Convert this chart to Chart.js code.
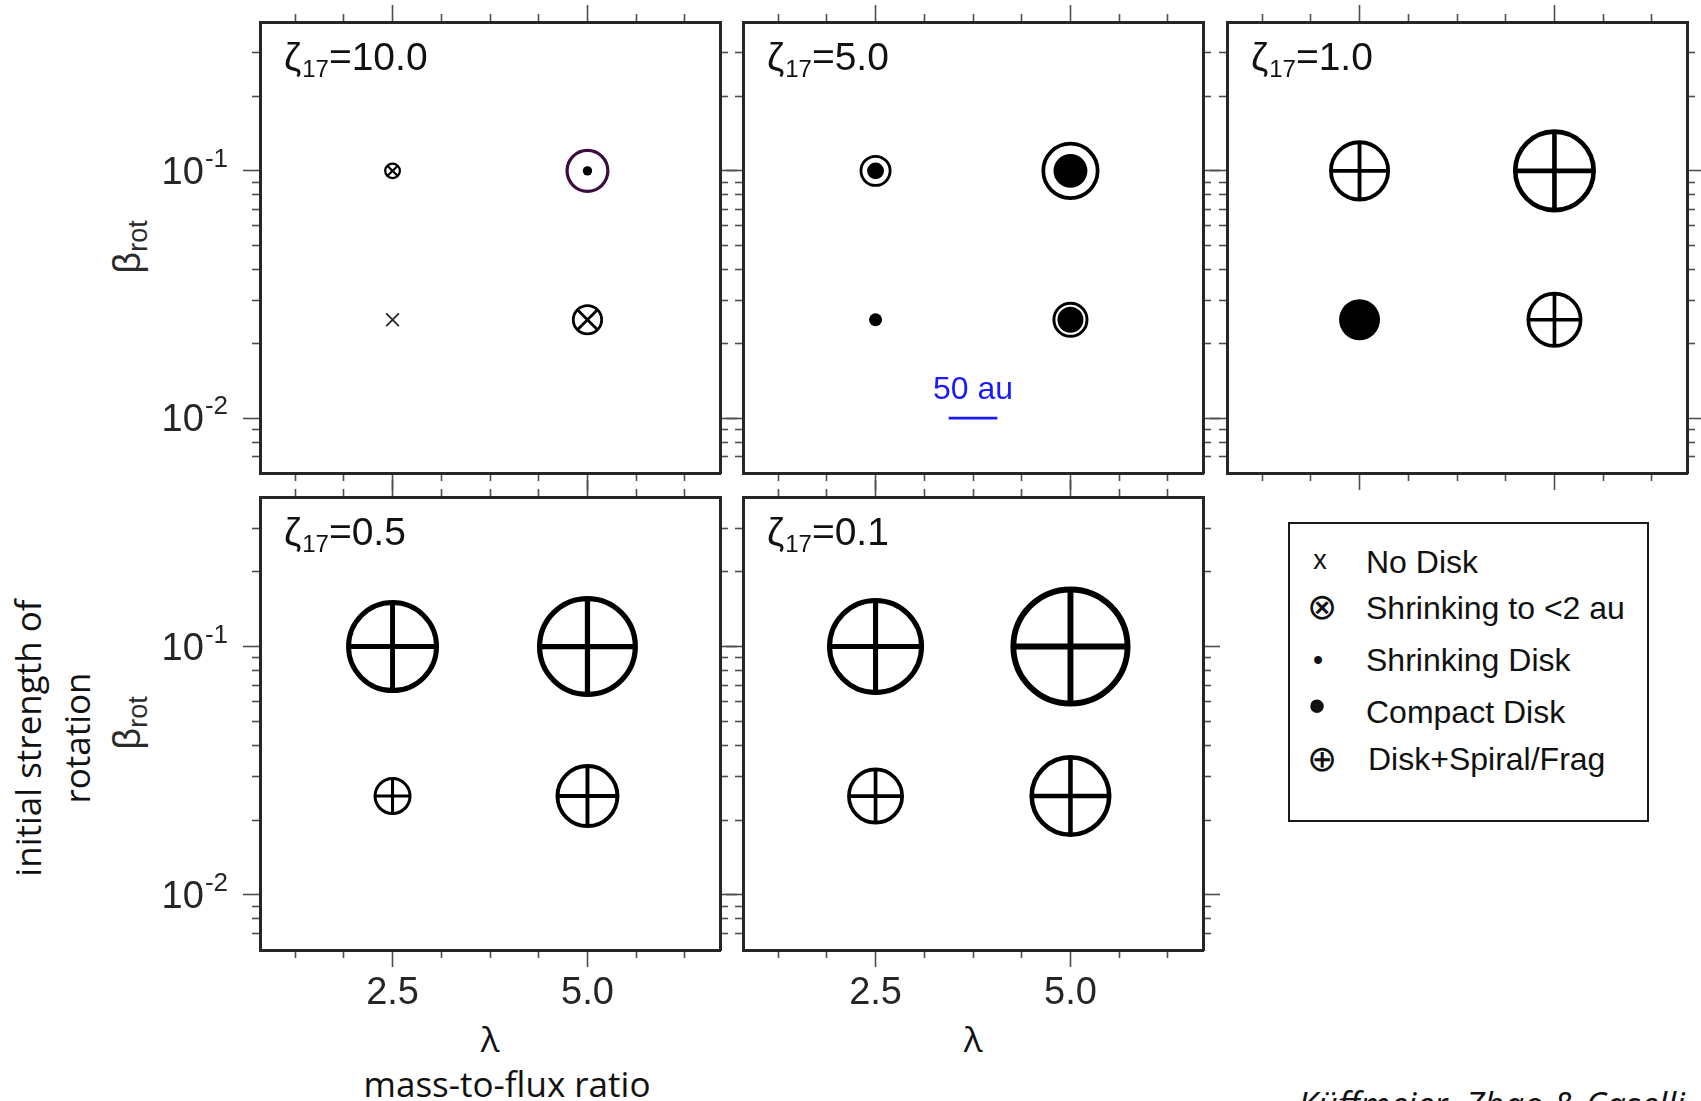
<!DOCTYPE html>
<html lang="en"><head><meta charset="utf-8">
<title>Disk formation regimes</title>
<script src="https://cdn.jsdelivr.net/npm/chart.js@4.4.1/dist/chart.umd.min.js"></script>
<style>
 html,body{margin:0;padding:0;background:#ffffff;}
 body{position:relative;width:1701px;height:1101px;overflow:hidden;}
 canvas{position:absolute;}
 .txt{position:absolute;white-space:nowrap;line-height:1;color:#111;margin:0;}
 .sans{font-family:"Liberation Sans",Arial,Helvetica,sans-serif;}
 .open{font-family:"Open Sans","Noto Sans",sans-serif;}
 .rot{transform:translate(-50%,-50%) rotate(-90deg);}
 .ctr{transform:translate(-50%,-50%);}
 #legendBox{position:absolute;left:1288px;top:522px;width:361px;height:300px;border:2px solid #1a1a1a;box-sizing:border-box;}
</style></head>
<body>
<div class="txt sans rot" style="left:127px;top:247px;font-size:38px;color:#2a2a2a">β<span style="font-size:27px;position:relative;top:7px">rot</span></div>
<div class="txt sans rot" style="left:127px;top:723px;font-size:38px;color:#2a2a2a">β<span style="font-size:27px;position:relative;top:7px">rot</span></div>
<div class="txt open rot" style="left:52px;top:738px;font-size:35px;line-height:49px;text-align:center">initial strength of<br>rotation</div>
<div class="txt open ctr" style="left:490px;top:1038px;font-size:35px">λ</div>
<div class="txt open ctr" style="left:973px;top:1038px;font-size:35px">λ</div>
<div class="txt open" style="left:507px;top:1066px;font-size:35px;transform:translateX(-50%)">mass-to-flux ratio</div>
<div class="txt open" style="left:1298px;top:1086px;font-size:35px;font-style:italic">Küffmeier, Zhao &amp; Caselli</div>
<div id="legendBox"></div>
<script>
// ================= DATA =================
// grid of simulations in every panel: (lambda, beta_rot)
const lambdaValues = [2.5, 5.0, 2.5, 5.0];
const betaValues   = [0.1, 0.1, 0.025, 0.025];
// cosmic-ray ionisation rate of each panel
const zetaValues = [10.0, 5.0, 1.0, 0.5, 0.1];

// outcome, outer disk radius (au) and compact core radius (au) for each point
const outcomeZeta10 = ['shrinkTo2au', 'shrinking', 'noDisk', 'shrinkTo2au'];
const ringAUZeta10  = [8.7, 22.6, 0, 16.0];
const coreAUZeta10  = [0, 4.8, 0, 0];

const outcomeZeta5 = ['compact', 'compact', 'shrinking', 'compact'];
const ringAUZeta5  = [16.4, 29.8, 0, 18.5];
const coreAUZeta5  = [8.7, 17.4, 6.7, 13.3];

const outcomeZeta1 = ['spiral', 'spiral', 'compact', 'spiral'];
const ringAUZeta1  = [31.3, 42.6, 0, 28.7];
const coreAUZeta1  = [0, 0, 21.0, 0];

const outcomeZeta05 = ['spiral', 'spiral', 'spiral', 'spiral'];
const ringAUZeta05  = [47.7, 51.8, 19.5, 32.8];
const coreAUZeta05  = [0, 0, 0, 0];

const outcomeZeta01 = ['spiral', 'spiral', 'spiral', 'spiral'];
const ringAUZeta01  = [49.8, 61.6, 29.2, 42.1];
const coreAUZeta01  = [0, 0, 0, 0];

// axes
const lambdaRange = [0.8, 6.7];
const betaRange   = [0.006, 0.4];
const xTickMajor  = [2.5, 5.0];
const xTickMinor  = [1.25, 1.875, 3.125, 3.75, 4.375, 5.625, 6.25];
const yTickMajor  = [0.01, 0.1];
const yTickExponent = ['-2', '-1'];
const yTickMinor  = [0.007, 0.008, 0.009, 0.02, 0.03, 0.04, 0.05, 0.06, 0.07, 0.08, 0.09, 0.2, 0.3];

// scale bar
const scaleBarAU = 50;
const scaleBarLambda = [3.4375, 4.0625];
const scaleBarBeta = 0.01;

// legend
const legendSymbols = ['x', '⊗', '•', '•', '⊕'];
const legendLabels  = ['No Disk', 'Shrinking to <2 au', 'Shrinking Disk', 'Compact Disk', 'Disk+Spiral/Frag'];

// ================= RENDERING =================
const FONT = '"Liberation Sans", Arial, Helvetica, sans-serif';
const FRAME = '#262626';
const TICKC = '#4d4d4d';
const LABELC = '#262626';
const PURPLE = '#3d0b40';
const BLUE = '#1a1aff';

const panelDefs = [
  {zeta: zetaValues[0], outcome: outcomeZeta10, ring: ringAUZeta10, core: coreAUZeta10, left: 260, top: 22, h: 451, showY: true,  showX: false, bar: false, mR: 20, mT: 22, mB: 20},
  {zeta: zetaValues[1], outcome: outcomeZeta5,  ring: ringAUZeta5,  core: coreAUZeta5,  left: 743, top: 22, h: 451, showY: false, showX: false, bar: true,  mR: 20, mT: 22, mB: 20},
  {zeta: zetaValues[2], outcome: outcomeZeta1,  ring: ringAUZeta1,  core: coreAUZeta1,  left: 1227, top: 22, h: 451, showY: false, showX: false, bar: false, mR: 14, mT: 22, mB: 20},
  {zeta: zetaValues[3], outcome: outcomeZeta05, ring: ringAUZeta05, core: coreAUZeta05, left: 260, top: 497, h: 453, showY: true,  showX: true,  bar: false, mR: 20, mT: 20, mB: 60},
  {zeta: zetaValues[4], outcome: outcomeZeta01, ring: ringAUZeta01, core: coreAUZeta01, left: 743, top: 497, h: 453, showY: false, showX: true,  bar: false, mR: 20, mT: 20, mB: 60}
];

function auPx(chart) {
  const s = chart.scales && chart.scales.x;
  if (!s || !s.width) return 1;
  return Math.abs(s.getPixelForValue(scaleBarLambda[1]) - s.getPixelForValue(scaleBarLambda[0])) / scaleBarAU;
}
function lineW(rpx) { return 1.7 + 0.07 * rpx; }
const ringRadius = ctx => {
  if (!ctx.raw) return 0;
  const r = ctx.raw.ring * auPx(ctx.chart);
  return Math.max(0, r - lineW(r) / 2);
};
const ringWidth = ctx => ctx.raw ? lineW(ctx.raw.ring * auPx(ctx.chart)) : 1;
const coreRadius = ctx => ctx.raw ? ctx.raw.core * auPx(ctx.chart) : 0;

function mkAxis(type, position, range, tickVals, tickLen, fitDim, fitVal, weight, showBorder, tickOpts) {
  return {
    type, position, min: range[0], max: range[1], weight,
    afterBuildTicks: s => { s.ticks = tickVals.map(v => ({value: v})); },
    afterFit: s => { s[fitDim] = fitVal; },
    grid: {display: true, drawOnChartArea: false, drawTicks: true, tickLength: tickLen, tickColor: TICKC, tickWidth: 1.6},
    border: {display: showBorder, color: FRAME, width: 3},
    ticks: tickOpts || {display: false}
  };
}

function buildPanel(p) {
  const W = 460, H = p.h;
  const mL = p.showY ? 110 : 20;
  const cv = document.createElement('canvas');
  cv.width = mL + W + p.mR;
  cv.height = p.mT + H + p.mB;
  cv.style.left = (p.left - mL) + 'px';
  cv.style.top = (p.top - p.mT) + 'px';
  cv.style.width = cv.width + 'px';
  cv.style.height = cv.height + 'px';
  document.body.appendChild(cv);

  const pts = lambdaValues.map((l, i) => ({x: l, y: betaValues[i], outcome: p.outcome[i], ring: p.ring[i], core: p.core[i]}));
  const common = {xAxisID: 'x', yAxisID: 'y', showLine: false, clip: false};
  const datasets = [
    Object.assign({label: 'core', data: pts.filter(d => d.core > 0), pointStyle: 'circle',
      pointRadius: coreRadius, pointHoverRadius: coreRadius, pointBackgroundColor: '#000', pointBorderWidth: 0, pointBorderColor: 'rgba(0,0,0,0)'}, common),
    Object.assign({label: 'spiral', data: pts.filter(d => d.outcome === 'spiral'), pointStyle: 'cross',
      pointRadius: ringRadius, pointHoverRadius: ringRadius, pointBorderWidth: ringWidth, pointBorderColor: '#000'}, common),
    Object.assign({label: 'shrinkTo2au', data: pts.filter(d => d.outcome === 'shrinkTo2au'), pointStyle: 'crossRot',
      pointRadius: ringRadius, pointHoverRadius: ringRadius, pointBorderWidth: ringWidth, pointBorderColor: '#000'}, common),
    Object.assign({label: 'ring', data: pts.filter(d => d.ring > 0), pointStyle: 'circle',
      pointRadius: ringRadius, pointHoverRadius: ringRadius, pointBorderWidth: ringWidth,
      pointBorderColor: ctx => (ctx.raw && ctx.raw.outcome === 'shrinking') ? PURPLE : '#000',
      pointBackgroundColor: 'rgba(0,0,0,0)'}, common),
    Object.assign({label: 'noDisk', data: pts.filter(d => d.outcome === 'noDisk'), pointStyle: 'crossRot',
      pointRadius: 9, pointHoverRadius: 9, pointBorderWidth: 1.7, pointBorderColor: '#222'}, common)
  ];
  if (p.bar) {
    datasets.push({label: 'scaleBar', xAxisID: 'x', yAxisID: 'y', showLine: true, clip: false,
      data: [{x: scaleBarLambda[0], y: scaleBarBeta}, {x: scaleBarLambda[1], y: scaleBarBeta}],
      borderColor: BLUE, borderWidth: 2.7, pointRadius: 0, pointHoverRadius: 0});
  }

  const xLabelOpts = {display: p.showX, autoSkip: false, maxRotation: 0, minRotation: 0, padding: 4,
    color: LABELC, font: {family: FONT, size: 38, lineHeight: 1.2}, callback: v => Number(v).toFixed(1)};

  const textPlugin = {
    id: 'panelText',
    afterDraw(chart) {
      const ctx = chart.ctx, ca = chart.chartArea;
      ctx.save();
      // panel label  zeta_17 = value
      ctx.fillStyle = '#111';
      ctx.textAlign = 'left';
      ctx.textBaseline = 'alphabetic';
      let x = ca.left + 24;
      const y = ca.top + 48;
      ctx.font = '39px ' + FONT;
      ctx.fillText('ζ', x, y);
      x += ctx.measureText('ζ').width + 1;
      ctx.font = '24px ' + FONT;
      ctx.fillText('17', x, y + 7);
      x += ctx.measureText('17').width;
      ctx.font = '39px ' + FONT;
      ctx.fillText('=' + p.zeta.toFixed(1), x, y);
      // y tick labels 10^n
      if (p.showY) {
        const ys = chart.scales.y;
        ctx.fillStyle = LABELC;
        ctx.textAlign = 'right';
        yTickMajor.forEach((v, i) => {
          const py = ys.getPixelForValue(v);
          const right = ca.left - 32;
          ctx.font = '26px ' + FONT;
          const supW = ctx.measureText(yTickExponent[i]).width;
          ctx.fillText(yTickExponent[i], right, py + 13 - 17);
          ctx.font = '38px ' + FONT;
          ctx.fillText('10', right - supW - 1, py + 13);
        });
      }
      // scale bar label
      if (p.bar) {
        const xs = chart.scales.x, ys = chart.scales.y;
        const cx = (xs.getPixelForValue(scaleBarLambda[0]) + xs.getPixelForValue(scaleBarLambda[1])) / 2;
        const by = ys.getPixelForValue(scaleBarBeta);
        ctx.fillStyle = BLUE;
        ctx.textAlign = 'center';
        ctx.font = '32px ' + FONT;
        ctx.fillText(scaleBarAU + ' au', cx, by - 19);
      }
      ctx.restore();
    }
  };

  new Chart(cv.getContext('2d'), {
    type: 'scatter',
    data: {datasets},
    options: {
      responsive: false,
      animation: false,
      events: [],
      devicePixelRatio: 1,
      layout: {padding: 0, autoPadding: false},
      plugins: {legend: {display: false}, tooltip: {enabled: false}, title: {display: false}},
      scales: {
        x:           mkAxis('linear', 'bottom', lambdaRange, xTickMajor, 17, 'height', p.mB, 1, true, xLabelOpts),
        xMinor:      mkAxis('linear', 'bottom', lambdaRange, xTickMinor, 8, 'height', 0, 0, false),
        xTop:        mkAxis('linear', 'top', lambdaRange, xTickMajor, 17, 'height', p.mT, 1, true),
        xTopMinor:   mkAxis('linear', 'top', lambdaRange, xTickMinor, 8, 'height', 0, 0, false),
        y:           mkAxis('logarithmic', 'left', betaRange, yTickMajor, 17, 'width', mL, 1, true),
        yMinor:      mkAxis('logarithmic', 'left', betaRange, yTickMinor, 8, 'width', 0, 0, false),
        yRight:      mkAxis('logarithmic', 'right', betaRange, yTickMajor, 17, 'width', p.mR, 1, true),
        yRightMinor: mkAxis('logarithmic', 'right', betaRange, yTickMinor, 8, 'width', 0, 0, false)
      }
    },
    plugins: [textPlugin]
  });
}

panelDefs.forEach(buildPanel);

// legend (outside the panels)
const legendSymbolFonts = ['27px ' + FONT, '36px "DejaVu Sans"', '29px ' + FONT, '50px ' + FONT, '36px "DejaVu Sans"'];
const legendSymbolPos = [[1320, 560], [1322, 607], [1318, 660], [1317, 706], [1322, 759]];
const legendTextPos = [[1366, 546], [1366, 592], [1366, 644], [1366, 696], [1368, 743]];
legendLabels.forEach((lab, i) => {
  const s = document.createElement('div');
  s.className = 'txt ctr';
  s.style.font = legendSymbolFonts[i];
  s.style.lineHeight = '1';
  s.style.left = legendSymbolPos[i][0] + 'px';
  s.style.top = legendSymbolPos[i][1] + 'px';
  s.textContent = legendSymbols[i];
  document.body.appendChild(s);
  const t = document.createElement('div');
  t.className = 'txt sans';
  t.style.fontSize = '32px';
  t.style.left = legendTextPos[i][0] + 'px';
  t.style.top = legendTextPos[i][1] + 'px';
  t.textContent = lab;
  document.body.appendChild(t);
});
</script>
</body></html>
